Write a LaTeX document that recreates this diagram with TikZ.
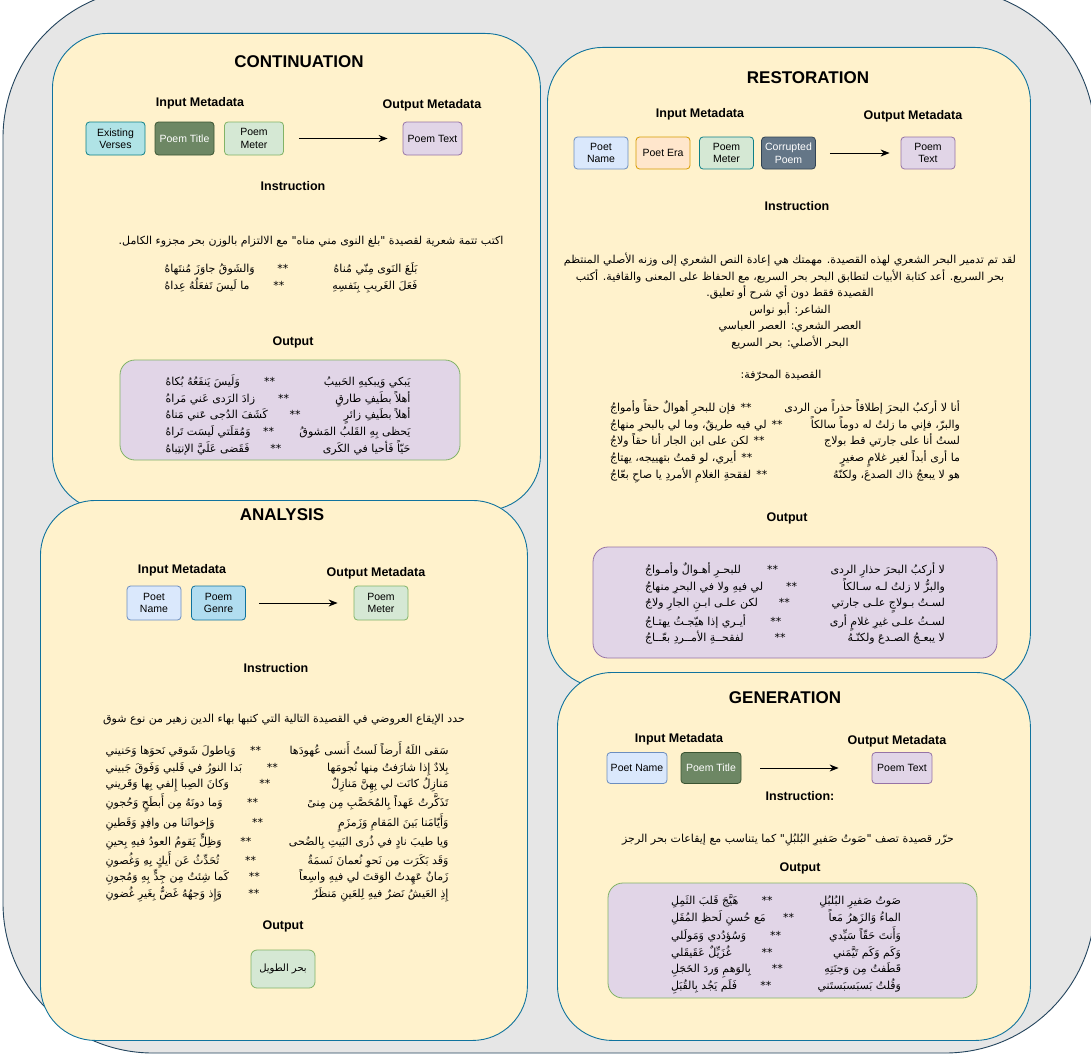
\documentclass[tikz,border=0pt]{standalone}
\usepackage{fontspec}
\setmainfont{Liberation Sans}
\newfontfamily\arabicfont[Script=Arabic]{DejaVu Sans}
\TeXXeTstate=1
\usepackage{tikz}
\usetikzlibrary{positioning,arrows.meta}
\definecolor{panelbg}{HTML}{FFF2CC}
\definecolor{panelline}{HTML}{10739E}
\definecolor{outerbg}{HTML}{E6E6E6}
\definecolor{outerline}{HTML}{23445D}
\definecolor{bluefill}{HTML}{DAE8FC}
\definecolor{blueline}{HTML}{6C8EBF}
\definecolor{cyanfill}{HTML}{B0E3E6}
\definecolor{cyanline}{HTML}{0E8088}
\definecolor{skyfill}{HTML}{B1DDF0}
\definecolor{darkfill}{HTML}{6D8764}
\definecolor{darkline}{HTML}{3A5431}
\definecolor{greenfill}{HTML}{D5E8D4}
\definecolor{greenline}{HTML}{82B366}
\definecolor{purplefill}{HTML}{E1D5E7}
\definecolor{purpleline}{HTML}{9673A6}
\definecolor{orangefill}{HTML}{FFE6CC}
\definecolor{orangeline}{HTML}{D79B00}
\definecolor{slatefill}{HTML}{647687}
\definecolor{slateline}{HTML}{314354}
% gap between the two halves of a verse
\newcommand\sepa{\hskip 0pt plus 2fill **\hskip 0pt plus 1fill\relax}
\newcommand\sepc{\hfill**\hskip 5pt\relax}
\tikzset{
  panel/.style={draw=panelline,fill=panelbg,rounded corners=55pt,line width=0.9pt,anchor=north west},
  ttl/.style={font=\fontsize{17}{20}\selectfont\bfseries},
  hdr/.style={font=\fontsize{12.5}{15}\selectfont\bfseries},
  meta/.style={rectangle,rounded corners=3.5pt,align=center,inner sep=1pt,line width=0.8pt,
    font=\fontsize{10.5}{12.5}\selectfont,minimum width=59pt,minimum height=33pt},
  bluebox/.style={fill=bluefill,draw=blueline},
  cyanbox/.style={fill=cyanfill,draw=cyanline},
  skybox/.style={fill=skyfill,draw=panelline},
  darkbox/.style={fill=darkfill,draw=darkline,text=white},
  greenbox/.style={fill=greenfill,draw=greenline},
  purplebox/.style={fill=purplefill,draw=purpleline},
  orangebox/.style={fill=orangefill,draw=orangeline},
  slatebox/.style={fill=slatefill,draw=slateline,text=white},
  artxt/.style={font=\fontsize{11}{16.5}\selectfont\arabicfont,align=center,inner sep=0pt},
  verses/.style={font=\fontsize{11}{16.75}\selectfont\arabicfont,align=center,inner sep=0pt},
  outbox/.style={rectangle,rounded corners=15pt,fill=purplefill,line width=0.8pt},
  flow/.style={-{Stealth[length=9pt,width=7pt]},line width=1pt},
}
\begin{document}
\begin{tikzpicture}[x=1pt,y=-1pt]
  \useasboundingbox (0,0) rectangle (1091,1057);
  \fill[white] (0,0) rectangle (1091,1057);
  \draw[fill=outerbg,draw=outerline,line width=0.9pt,rounded corners=150pt] (3,-12) rectangle (1095,1053);

  % the four task panels
  \node[panel,minimum width=488pt,minimum height=477pt] (contpanel) at (52,33) {};
  \node[panel,minimum width=483pt,minimum height=640pt] (restpanel) at (547,47) {};
  \node[panel,minimum width=487pt,minimum height=540pt] (anapanel) at (40,500) {};
  \node[panel,minimum width=473pt,minimum height=368pt] (genpanel) at (557,672) {};

  % continuation
  \node[ttl] (conttitle) at (299,62) {CONTINUATION};
  \node[hdr] (contin) at (200,103) {Input Metadata};
  \node[hdr] (contout) at (432,105) {Output Metadata};
  \node[meta,cyanbox] (contev) at (115.5,138.5) {Existing\\Verses};
  \node[meta,darkbox] (contpt) at (184.5,138.5) {Poem Title};
  \node[meta,greenbox] (contpm) at (254,138.5) {Poem\\Meter};
  \node[meta,purplebox] (contptx) at (432.5,138.5) {Poem Text};
  \draw[flow] ([xshift=15pt]contpm.east) -- ([xshift=-15pt]contptx.west);
  \node[hdr] (continstr) at (293,186) {Instruction};
  \node[artxt] (conttask) at (311,242) {\beginR اكتب تتمة شعرية لقصيدة "بلغ النوى مني مناه" مع الالتزام بالوزن بحر مجزوء الكامل.\endR};
  \node[verses] (contgiven) at (291,278) {%
    \hbox to 253pt{\beginR بَلَغَ النَوى مِنّي مُناهُ\sepa وَالشَوقُ جاوَزَ مُنتَهاهُ\endR}\\
    \hbox to 253pt{\beginR فَعَلَ الغَريبِ بِنَفسِهِ\sepa ما لَيسَ تَفعَلُهُ عِداهُ\endR}};
  \node[hdr] (contouthdr) at (293,342) {Output};
  \node[outbox,draw=greenline,minimum width=340pt,minimum height=100pt] (contres) at (290,410) {};
  \node[verses] (contpoem) at (288,415) {%
    \hbox to 245pt{\beginR يَبكي وَيبكيهِ الحَبيبُ\sepa وَلَيسَ يَنفَعُهُ بُكاهُ\endR}\\
    \hbox to 245pt{\beginR أهلاً بطَيفِ طارقٍ\sepa زادَ الرَدى عَني مَراهُ\endR}\\
    \hbox to 245pt{\beginR أهلاً بطَيفِ زائرٍ\sepa كَشَفَ الدُجى عَني مَناهُ\endR}\\
    \hbox to 245pt{\beginR يَحظى بِهِ القَلبُ المَشوقُ\sepa وَمُقلَتي لَيسَت تَراهُ\endR}\\
    \hbox to 245pt{\beginR حَيّاً فَأحيا في الكَرى\sepa فَقَضى عَلَيَّ الإنتِباهُ\endR}};

  % restoration
  \node[ttl] (resttitle) at (808,78) {RESTORATION};
  \node[hdr] (restin) at (700,114) {Input Metadata};
  \node[hdr] (restout) at (913,116) {Output Metadata};
  \node[meta,bluebox,minimum width=54pt,minimum height=32pt] (restpn) at (601,153) {Poet\\Name};
  \node[meta,orangebox,minimum width=54pt,minimum height=32pt] (restpe) at (663,153) {Poet Era};
  \node[meta,greenbox,draw=cyanline,minimum width=54pt,minimum height=32pt] (restpm) at (726.5,153) {Poem\\Meter};
  \node[meta,slatebox,minimum width=54pt,minimum height=32pt] (restcp) at (788.5,153) {Corrupted\\Poem};
  \node[meta,purplebox,minimum width=54pt,minimum height=32pt] (restptx) at (928,153) {Poem\\Text};
  \draw[flow] ([xshift=14pt]restcp.east) -- ([xshift=-11pt]restptx.west);
  \node[hdr] (restinstr) at (797,206) {Instruction};
  \node[artxt] (resttask) at (790,301) {%
    \beginR لقد تم تدمير البحر الشعري لهذه القصيدة. مهمتك هي إعادة النص الشعري إلى وزنه الأصلي المنتظم\endR\\
    \beginR بحر السريع. أعد كتابة الأبيات لتطابق البحر بحر السريع، مع الحفاظ على المعنى والقافية. أكتب\endR\\
    \beginR القصيدة فقط دون أي شرح أو تعليق.\endR\\
    \beginR الشاعر: أبو نواس\endR\\
    \beginR العصر الشعري: العصر العباسي\endR\\
    \beginR البحر الأصلي: بحر السريع\endR};
  \node[artxt] (restcorrhdr) at (781,376) {\beginR القصيدة المحرّفة:\endR};
  \node[verses] (restcorr) at (785,441.5) {%
    \hbox to 350pt{\beginR أنا لا أركبُ البحرَ إطلاقاً حذراً من الردى\sepc فإن للبحرِ أهوالٌ حقاً وأمواجُ\endR}\\
    \hbox to 350pt{\beginR والبرّ، فإني ما زلتُ له دوماً سالكاً\sepc لي فيه طريقٌ، وما لي بالبحرِ منهاجُ\endR}\\
    \hbox to 350pt{\beginR لستُ أنا على جارتي قط بولاج\sepc لكن على ابن الجار أنا حقاً ولاجُ\endR}\\
    \hbox to 350pt{\beginR ما أرى أبداً لغير غلامٍ صغيرٍ\sepc أيري، لو قمتُ بتهييجه، يهتاجُ\endR}\\
    \hbox to 350pt{\beginR هو لا يبعجُ ذاك الصدعَ، ولكنّهُ\sepc لفقحةِ الغلامِ الأمردِ يا صاحِ بعّاجُ\endR}};
  \node[hdr] (restouthdr) at (787,518) {Output};
  \node[outbox,draw=purpleline,minimum width=404pt,minimum height=111pt] (restres) at (795,602.5) {};
  \node[verses] (restpoem) at (795,603.5) {%
    \hbox to 300pt{\beginR لا أركبُ البحرَ حذارِ الردى\sepa للبحـرِ أهـوالٌ وأمـواجُ\endR}\\
    \hbox to 300pt{\beginR والبرُّ لا زلتُ لـه سـالكاً\sepa لي فيهِ ولا في البحرِ منهاجُ\endR}\\
    \hbox to 300pt{\beginR لسـتُ بـولاجٍ علـى جارتي\sepa لكن علـى ابـنِ الجارِ ولاجُ\endR}\\
    \hbox to 300pt{\beginR لسـتُ علـى غيرِ غلامٍ أرى\sepa أيـري إذا هيّجـتُ يهتـاجُ\endR}\\
    \hbox to 300pt{\beginR لا يبعـجُ الصـدعَ ولكنّـهُ\sepa لفقحــةِ الأمــردِ بعّــاجُ\endR}};

  % analysis
  \node[ttl] (anatitle) at (282,515) {ANALYSIS};
  \node[hdr] (anain) at (182,570) {Input Metadata};
  \node[hdr] (anaout) at (376,573) {Output Metadata};
  \node[meta,bluebox,minimum width=54pt,minimum height=34pt] (anapn) at (154,603) {Poet\\Name};
  \node[meta,skybox,minimum width=54pt,minimum height=34pt] (anapg) at (218.5,603) {Poem\\Genre};
  \node[meta,greenbox,minimum width=54pt,minimum height=34pt] (anapm) at (381,603) {Poem\\Meter};
  \draw[flow] ([xshift=13pt]anapg.east) -- ([xshift=-16pt]anapm.west);
  \node[hdr] (anainstr) at (276,668) {Instruction};
  \node[artxt] (anatask) at (284,720) {\beginR حدد الإيقاع العروضي في القصيدة التالية التي كتبها بهاء الدين زهير من نوع شوق\endR};
  \node[verses] (anapoem) at (277,822) {%
    \hbox to 343pt{\beginR سَقى اللَهُ أَرضاً لَستُ أَنسى عُهودَها\sepa وَياطولَ شَوقي نَحوَها وَحَنيني\endR}\\
    \hbox to 343pt{\beginR بِلادٌ إِذا شارَفتُ مِنها نُجومَها\sepa بَدا النورُ في قَلبي وَفَوقَ جَبيني\endR}\\
    \hbox to 343pt{\beginR مَنازِلُ كانَت لي بِهِنَّ مَنازِلٌ\sepa وَكانَ الصِبا إِلفي بِها وَقَريني\endR}\\
    \hbox to 343pt{\beginR تَذَكَّرتُ عَهداً بِالمُحَصَّبِ مِن مِنىً\sepa وَما دونَهُ مِن أَبطَحٍ وَحُجونِ\endR}\\
    \hbox to 343pt{\beginR وَأَيّامَنا بَينَ المَقامِ وَزَمزَمٍ\sepa وَإِخوانَنا مِن وافِدٍ وَقَطينِ\endR}\\
    \hbox to 343pt{\beginR وَيا طيبَ نادٍ في ذُرى البَيتِ بِالضُحى\sepa وَظِلٍّ يَقومُ العودُ فيهِ بِحينِ\endR}\\
    \hbox to 343pt{\beginR وَقَد بَكَرَت مِن نَحوِ نُعمانَ نَسمَةٌ\sepa تُحَدِّثُ عَن أَيكٍ بِهِ وَغُصونِ\endR}\\
    \hbox to 343pt{\beginR زَمانٌ عَهِدتُ الوَقتَ لي فيهِ واسِعاً\sepa كَما شِئتُ مِن جِدٍّ بِهِ وَمُجونِ\endR}\\
    \hbox to 343pt{\beginR إِذِ العَيشُ نَضرٌ فيهِ لِلعَينِ مَنظَرٌ\sepa وَإِذ وَجهُهُ غَضٌّ بِغَيرِ غُضونِ\endR}};
  \node[hdr] (anaouthdr) at (283,926) {Output};
  \node[meta,greenbox,minimum width=64pt,minimum height=38pt,rounded corners=6pt,font=\fontsize{10}{12}\selectfont\arabicfont] (anares) at (283,969) {\beginR بحر الطويل\endR};

  % generation
  \node[ttl] (gentitle) at (785,698) {GENERATION};
  \node[hdr] (genin) at (679,739) {Input Metadata};
  \node[hdr] (genout) at (897,741) {Output Metadata};
  \node[meta,bluebox,minimum width=60pt,minimum height=31pt] (genpn) at (637,768) {Poet Name};
  \node[meta,darkbox,minimum width=60pt,minimum height=31pt] (genpt) at (711,768) {Poem Title};
  \node[meta,purplebox,minimum width=60pt,minimum height=31pt] (genptx) at (902,768) {Poem Text};
  \draw[flow] ([xshift=19pt]genpt.east) -- ([xshift=-33pt]genptx.west);
  \node[hdr] (geninstr) at (800,796) {Instruction:};
  \node[artxt] (gentask) at (788,840) {\beginR حرّر قصيدة تصف "صَوتُ صَفيرِ البُلبُلِ" كما يتناسب مع إيقاعات بحر الرجز\endR};
  \node[hdr] (genouthdr) at (800,868) {Output};
  \node[outbox,draw=greenline,minimum width=369pt,minimum height=115pt] (genres) at (792.5,940.5) {};
  \node[verses] (genpoem) at (786,944) {%
    \hbox to 230pt{\beginR صَوتُ صَفيرِ البُلبُلِ\sepa هَيَّجَ قَلبَ الثَمِلِ\endR}\\
    \hbox to 230pt{\beginR الماءُ وَالزَهرُ مَعاً\sepa مَع حُسنِ لَحظِ المُقَلِ\endR}\\
    \hbox to 230pt{\beginR وَأَنتَ حَقّاً سَيِّدي\sepa وَسُؤدُدي وَمَولَلي\endR}\\
    \hbox to 230pt{\beginR وَكَم وَكَم تَيَّمَني\sepa غُزَيِّلٌ عَقَيقَلي\endR}\\
    \hbox to 230pt{\beginR قَطَفتُ مِن وَجنَتِهِ\sepa بِالوَهمِ وَردَ الخَجَلِ\endR}\\
    \hbox to 230pt{\beginR وَقُلتُ بَسبَسبَستَني\sepa فَلَم يَجُد بِالقُبَلِ\endR}};
\end{tikzpicture}
\end{document}
